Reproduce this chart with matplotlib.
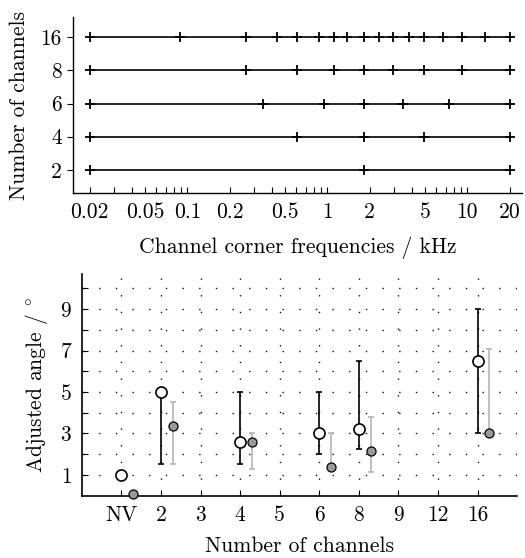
import numpy as np
import matplotlib
matplotlib.use("Agg")
import matplotlib.pyplot as plt
from matplotlib.ticker import LogLocator, NullFormatter, FixedLocator

plt.rcParams['font.family'] = 'serif'
plt.rcParams['font.serif'] = ['cmr10']
plt.rcParams['mathtext.fontset'] = 'cm'
plt.rcParams['axes.formatter.use_mathtext'] = True
plt.rcParams['font.size'] = 15.5

# top panel: channel corner frequencies (kHz)
channel_counts = ['2', '4', '6', '8', '16']
corners = {
    '2': [0.02, 1.82, 20],
    '4': [0.02, 0.608, 1.82, 4.92, 20],
    '6': [0.02, 0.348, 0.949, 1.82, 3.48, 7.40, 20],
    '8': [0.02, 0.261, 0.608, 1.117, 1.82, 2.96, 4.92, 9.16, 20],
    '16': [0.02, 0.088, 0.261, 0.433, 0.608, 0.873, 1.117, 1.384, 1.82,
           2.33, 2.96, 3.81, 4.92, 6.67, 9.16, 13.37, 20],
}
freq_ticks = [0.02, 0.05, 0.1, 0.2, 0.5, 1, 2, 5, 10, 20]
freq_labels = ['0.02', '0.05', '0.1', '0.2', '0.5', '1', '2', '5', '10', '20']

# bottom panel: adjusted angle
conditions = ['NV', '2', '3', '4', '5', '6', '8', '9', '12', '16']
open_pos = [1, 2, 4, 6, 7, 10]
open_val = [1.0, 5.0, 2.6, 3.0, 3.22, 6.5]
open_lo = [np.nan, 1.5, 1.5, 2.0, 2.25, 3.0]
open_hi = [np.nan, 5.0, 5.0, 5.0, 6.5, 9.0]
grey_val = [0.08, 3.37, 2.6, 1.4, 2.15, 3.0]
grey_lo = [np.nan, 1.5, 1.3, 1.4, 1.12, 3.0]
grey_hi = [np.nan, 4.5, 3.0, 3.0, 3.77, 7.1]

fig = plt.figure(figsize=(5.25, 5.58), dpi=100)

# ---- top
ax1 = fig.add_axes([0.139, 0.654, 0.855, 0.315])
for i, n in enumerate(channel_counts):
    ax1.plot(corners[n], [i + 1] * len(corners[n]), color='black', lw=1.2,
             marker='+', ms=7.5, mew=1.3)
ax1.set_xscale('log')
ax1.set_xlim(0.0152, 24.5)
ax1.set_ylim(0.3, 5.6)
ax1.set_yticks(range(1, 6))
ax1.set_yticklabels(channel_counts)
ax1.xaxis.set_major_locator(FixedLocator(freq_ticks))
ax1.set_xticklabels(freq_labels)
ax1.xaxis.set_minor_locator(LogLocator(base=10, subs=np.arange(1, 10)))
ax1.xaxis.set_minor_formatter(NullFormatter())
ax1.tick_params(axis='x', which='both', direction='in', length=4, width=0.8, pad=7)
ax1.tick_params(axis='y', direction='out', length=4, width=0.8, pad=4)
for s in ['top', 'right']:
    ax1.spines[s].set_visible(False)
for s in ['left', 'bottom']:
    ax1.spines[s].set_linewidth(1.0)
ax1.set_xlabel('Channel corner frequencies / kHz')
ax1.xaxis.set_label_coords(0.5, -0.245)
ax1.set_ylabel('Number of channels')
ax1.yaxis.set_label_coords(-0.098, 0.5)

# ---- bottom
ax2 = fig.add_axes([0.156, 0.112, 0.829, 0.397])
ax2.set_xlim(0, 11)
ax2.set_ylim(0, 10.7)
ax2.set_xticks(range(1, 11))
ax2.set_xticklabels(conditions)
ax2.set_yticks([1, 3, 5, 7, 9])
ax2.set_yticks(range(2, 11, 2), minor=True)
ax2.tick_params(axis='both', which='both', direction='in', length=4, width=0.8, pad=7)
for s in ['top', 'right']:
    ax2.spines[s].set_visible(False)
for s in ['left', 'bottom']:
    ax2.spines[s].set_linewidth(1.2)
ax2.grid(True, which='both', color='#111111', lw=1.0, linestyle=(0, (1, 11)))
ax2.set_axisbelow(True)

op = np.array(open_pos, dtype=float)
ov = np.array(open_val)
gv = np.array(grey_val)
oerr = [ov - np.array(open_lo), np.array(open_hi) - ov]
gerr = [gv - np.array(grey_lo), np.array(grey_hi) - gv]
ax2.errorbar(op, ov, yerr=oerr, fmt='none', ecolor='black', elinewidth=1.2,
             capsize=2.5, capthick=1.2, zorder=3)
ax2.errorbar(op + 0.3, gv, yerr=gerr, fmt='none', ecolor='#b5b5b5', elinewidth=1.2,
             capsize=2.5, capthick=1.2, zorder=3)
ax2.plot(op, ov, 'o', ms=8, mfc='white', mec='black', mew=1.2, zorder=4, clip_on=False)
ax2.plot(op + 0.3, gv, 'o', ms=6.5, mfc='#999999', mec='black', mew=0.9, zorder=4,
         clip_on=False)
ax2.set_xlabel('Number of channels')
ax2.xaxis.set_label_coords(0.5, -0.185)
ax2.set_ylabel(r'Adjusted angle / $^{\circ}$')
ax2.yaxis.set_label_coords(-0.074, 0.5)

fig.savefig('out.png', dpi=100)
